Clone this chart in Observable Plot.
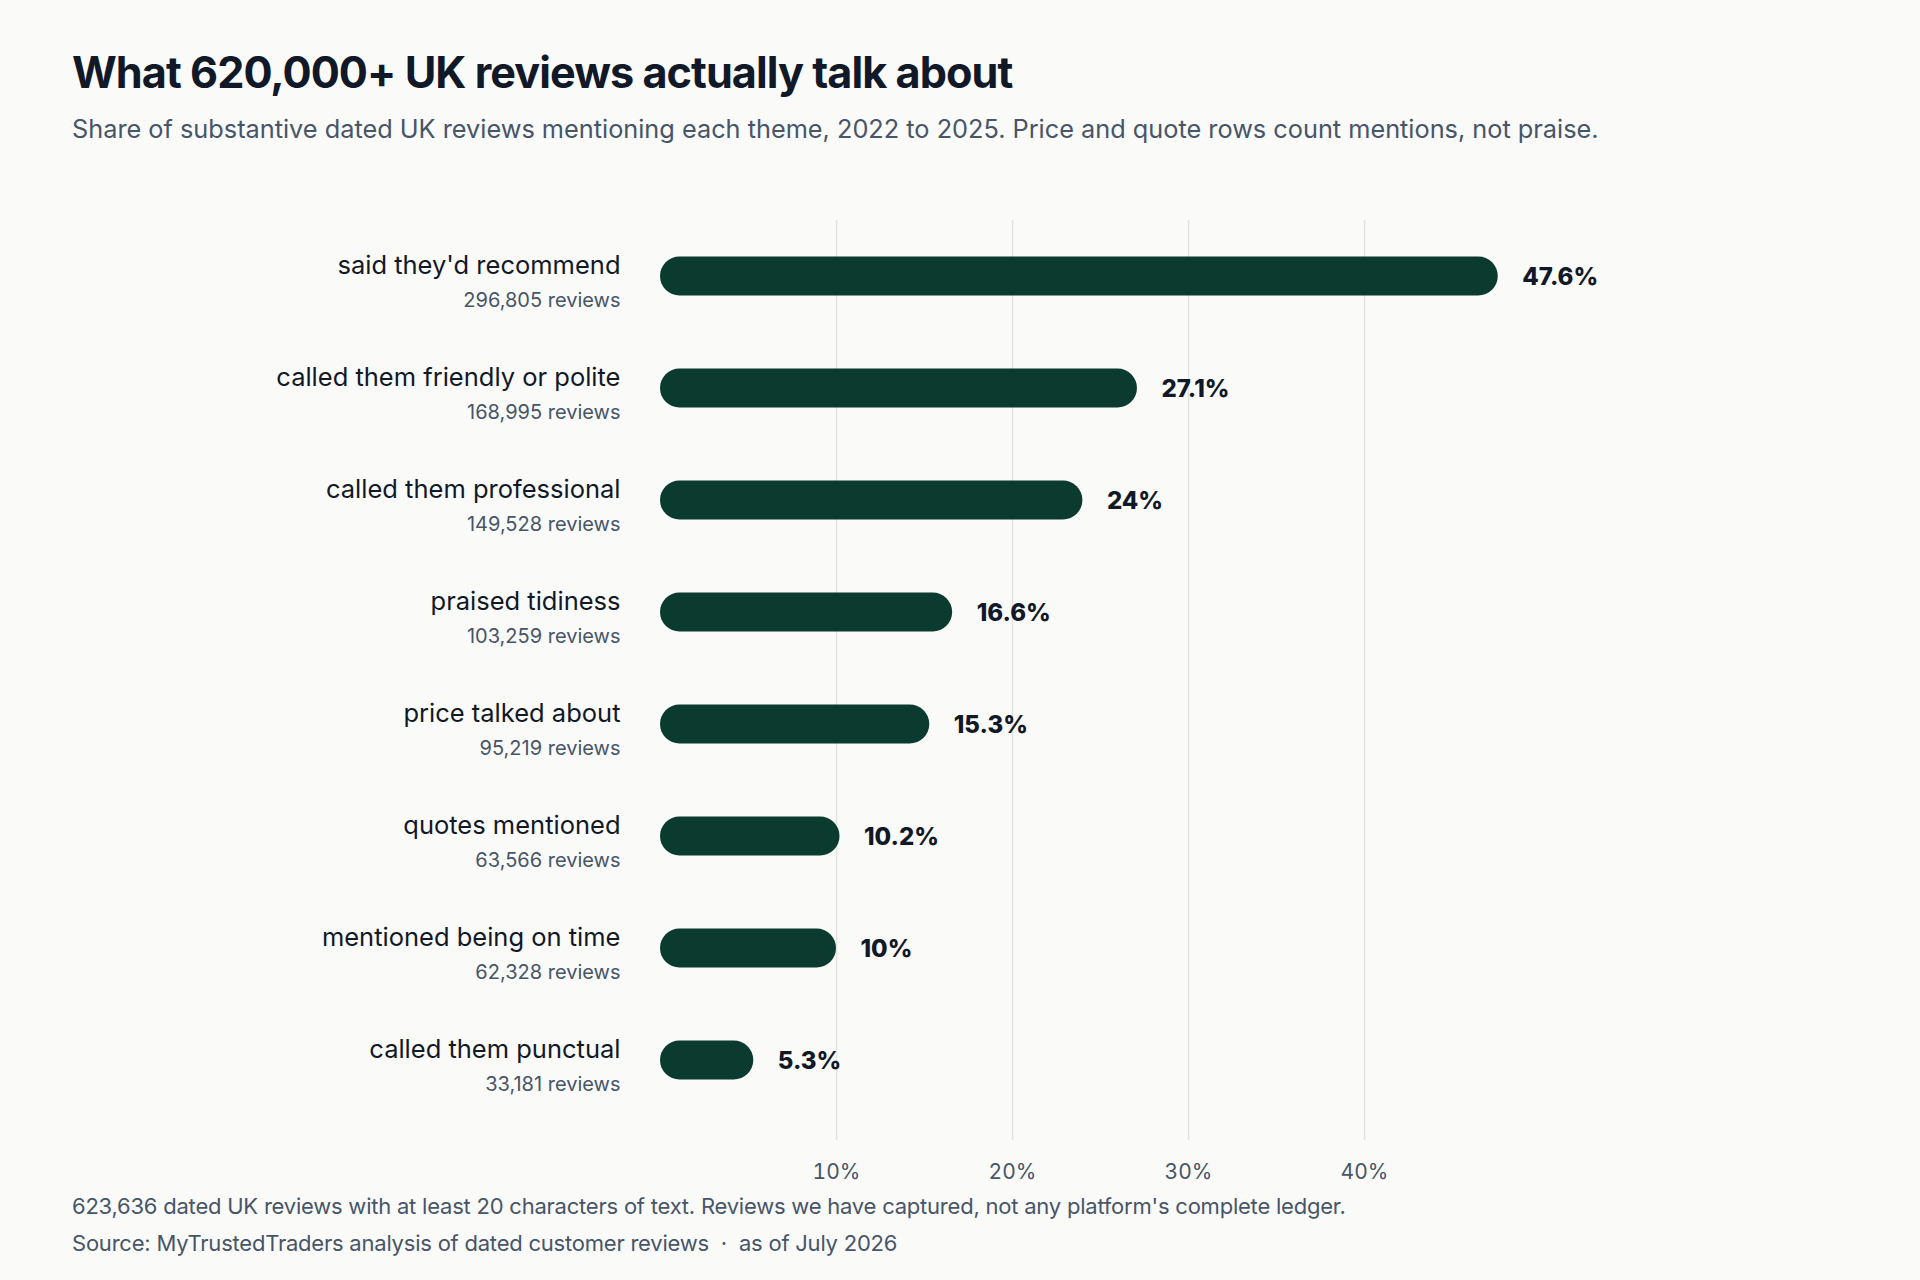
<!DOCTYPE html>
<html>
<head>
<meta charset="utf-8">
<script src="https://cdn.jsdelivr.net/npm/d3@7"></script>
<script src="https://cdn.jsdelivr.net/npm/@observablehq/plot@0.6"></script>
<style>
  html, body { margin: 0; padding: 0; background: #fafaf8; }
  body { width: 1920px; height: 1280px; position: relative; font-family: Inter, "Noto Sans", sans-serif; overflow: hidden; }
  #title { position: absolute; left: 72px; top: 46px; font-size: 43.2px; font-weight: 700; color: #111827; letter-spacing: -0.022em; line-height: 52px; margin: 0; }
  #subtitle { position: absolute; left: 72px; top: 113px; font-size: 25.3px; color: #475569; letter-spacing: 0; line-height: 32px; margin: 0; }
  #chart { position: absolute; left: 0; top: 170px; }
  #caption { position: absolute; left: 72px; top: 1192px; font-size: 22px; color: #475569; line-height: 28px; letter-spacing: -0.01em; }
  #source { position: absolute; left: 72px; top: 1229px; font-size: 22px; color: #475569; line-height: 28px; letter-spacing: -0.01em; }
</style>
</head>
<body>
<div id="title">What 620,000+ UK reviews actually talk about</div>
<div id="subtitle">Share of substantive dated UK reviews mentioning each theme, 2022 to 2025. Price and quote rows count mentions, not praise.</div>
<div id="chart"></div>
<div id="caption">623,636 dated UK reviews with at least 20 characters of text. Reviews we have captured, not any platform's complete ledger.</div>
<div id="source">Source: MyTrustedTraders analysis of dated customer reviews &nbsp;·&nbsp; as of July 2026</div>
<script>
const themes = [
  "said they'd recommend",
  "called them friendly or polite",
  "called them professional",
  "praised tidiness",
  "price talked about",
  "quotes mentioned",
  "mentioned being on time",
  "called them punctual"
];
const shares = [47.6, 27.1, 24, 16.6, 15.3, 10.2, 10, 5.3];
const counts = [296805, 168995, 149528, 103259, 95219, 63566, 62328, 33181];
const tickValues = [10, 20, 30, 40];

const rows = themes.map((t, i) => ({theme: t, share: shares[i], count: counts[i]}));
const fmtCount = d3.format(",");

const chart = Plot.plot({
  width: 1920,
  height: 1030,
  marginLeft: 660,
  marginRight: 204,
  marginTop: 50,
  marginBottom: 60,
  style: {fontFamily: "Inter, 'Noto Sans', sans-serif", background: "transparent", overflow: "visible"},
  x: {domain: [0, 60], ticks: tickValues, tickFormat: d => d + "%", tickSize: 0, tickPadding: 24, label: null},
  y: {domain: themes, padding: 0, insetBottom: 24, axis: null},
  marks: [
    Plot.gridX(tickValues, {stroke: "#e4e4e1", strokeOpacity: 1, strokeWidth: 1.5}),
    Plot.axisX(tickValues, {tickSize: 0, tickPadding: 24, tickFormat: d => d + "%", fontSize: 21, fill: "#475569", label: null}),
    Plot.barX(rows, {x: "share", y: "theme", fill: "#0b3b2f", insetTop: 36.5, insetBottom: 36.5, rx: 19.5}),
    Plot.text(rows, {x: "share", y: "theme", text: d => d.share + "%", textAnchor: "start", dx: 24, dy: 1, fontSize: 24, fontWeight: 800, fill: "#111827", style: "letter-spacing:0.03em"}),
    Plot.text(rows, {x: () => 0, y: "theme", text: "theme", textAnchor: "end", dx: -40, dy: -11, fontSize: 25.5, fill: "#111827"}),
    Plot.text(rows, {x: () => 0, y: "theme", text: d => fmtCount(d.count) + " reviews", textAnchor: "end", dx: -40, dy: 24, fontSize: 20, fill: "#475569"})
  ]
});
document.getElementById("chart").appendChild(chart);
</script>
</body>
</html>
